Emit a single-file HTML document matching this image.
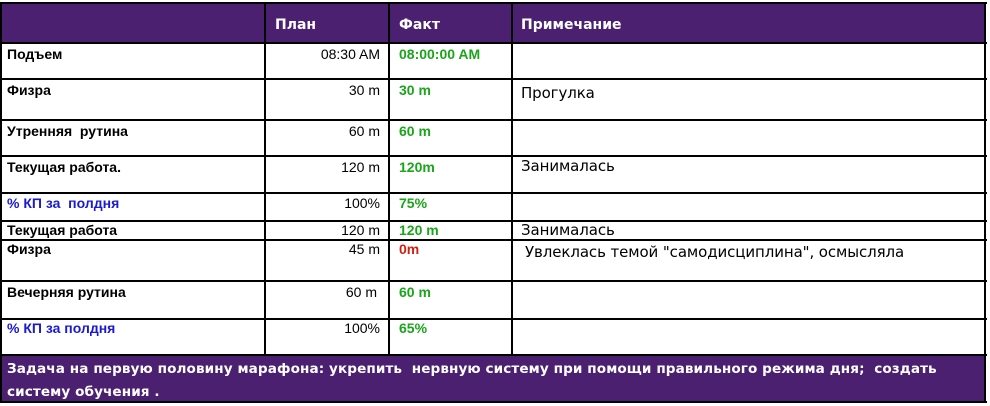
<!DOCTYPE html>
<html><head><meta charset="utf-8"><style>
body{margin:0;width:990px;height:406px;background:#fff;position:relative;overflow:hidden;font-family:"Liberation Sans",Arial,sans-serif}
.b{position:absolute;background:#000}
.p{position:absolute;background:#4b2070}
.t{position:absolute;font-size:14px;font-weight:bold;white-space:nowrap;line-height:16px}
.n{position:absolute;font-size:14px;white-space:nowrap;line-height:16px;text-align:right;width:116px;left:264px}
.g{color:#1aa51a}
.bl{color:#1a1ad0}
.c{position:absolute;font-size:15px;white-space:nowrap;line-height:17px;font-family:"DejaVu Sans","Liberation Sans",sans-serif;letter-spacing:-0.1px}
.h{position:absolute;color:#fff;font-size:14px;font-weight:bold;font-family:"DejaVu Sans",sans-serif;line-height:16px;white-space:nowrap}
</style></head><body>
<div class="p" style="left:2px;top:3px;width:984px;height:41px"></div>
<div class="p" style="left:2px;top:355px;width:984px;height:47px"></div>
<div class="b" style="left:1px;top:2px;width:986px;height:2px"></div>
<div class="b" style="left:1px;top:42px;width:986px;height:2px"></div>
<div class="b" style="left:1px;top:78px;width:986px;height:2px"></div>
<div class="b" style="left:1px;top:119px;width:986px;height:2px"></div>
<div class="b" style="left:1px;top:155px;width:986px;height:2px"></div>
<div class="b" style="left:1px;top:192px;width:986px;height:2px"></div>
<div class="b" style="left:1px;top:220px;width:986px;height:2px"></div>
<div class="b" style="left:1px;top:239px;width:986px;height:2px"></div>
<div class="b" style="left:1px;top:280px;width:986px;height:2px"></div>
<div class="b" style="left:1px;top:318px;width:986px;height:2px"></div>
<div class="b" style="left:1px;top:354px;width:986px;height:2px"></div>
<div class="b" style="left:1px;top:401px;width:986px;height:2px"></div>
<div class="b" style="left:0px;top:2px;width:2px;height:401px"></div>
<div class="b" style="left:984px;top:2px;width:2px;height:401px"></div>
<div class="b" style="left:264px;top:2px;width:2px;height:353px"></div>
<div class="b" style="left:388px;top:2px;width:2px;height:353px"></div>
<div class="b" style="left:511px;top:2px;width:2px;height:353px"></div>

<div class="h" style="left:275px;top:17px">План</div>
<div class="h" style="left:399px;top:17px">Факт</div>
<div class="h" style="left:521px;top:17px">Примечание</div>

<div class="t" style="left:7px;top:46px">Подъем</div>
<div class="n" style="top:46px">08:30 AM</div>
<div class="t g" style="left:399px;top:46px">08:00:00 AM</div>

<div class="t" style="left:7px;top:82px">Физра</div>
<div class="n" style="top:82px">30 m</div>
<div class="t g" style="left:399px;top:82px">30 m</div>
<div class="c" style="left:521px;top:85px">Прогулка</div>

<div class="t" style="left:7px;top:123px">Утренняя&nbsp; рутина</div>
<div class="n" style="top:123px">60 m</div>
<div class="t g" style="left:399px;top:123px">60 m</div>

<div class="t" style="left:7px;top:159px">Текущая работа.</div>
<div class="n" style="top:159px">120 m</div>
<div class="t g" style="left:399px;top:159px">120m</div>
<div class="c" style="left:521px;top:158px">Занималась</div>

<div class="t bl" style="left:7px;top:195px">% КП за&nbsp; полдня</div>
<div class="n" style="top:195px">100%</div>
<div class="t g" style="left:399px;top:195px">75%</div>

<div class="t" style="left:7px;top:222px">Текущая работа</div>
<div class="n" style="top:222px">120 m</div>
<div class="t g" style="left:399px;top:222px">120 m</div>
<div class="c" style="left:521px;top:222px">Занималась</div>

<div class="t" style="left:7px;top:241px">Физра</div>
<div class="n" style="top:241px">45 m</div>
<div class="t" style="left:399px;top:241px;color:#d02010">0m</div>
<div class="c" style="left:525px;top:244px">Увлеклась темой "самодисциплина", осмысляла</div>

<div class="t" style="left:7px;top:284px">Вечерняя рутина</div>
<div class="n" style="top:284px;width:113px">60 m</div>
<div class="t g" style="left:399px;top:284px">60 m</div>

<div class="t bl" style="left:7px;top:320px">% КП за полдня</div>
<div class="n" style="top:320px">100%</div>
<div class="t g" style="left:399px;top:320px">65%</div>

<div class="h" style="left:7px;top:361px;font-size:13.6px;letter-spacing:0.08px">Задача на первую половину марафона: укрепить&nbsp; нервную систему при помощи правильного режима дня;&nbsp; создать</div>
<div class="h" style="left:7px;top:384px;font-size:13.6px;letter-spacing:0.08px">систему обучения .</div>
</body></html>
